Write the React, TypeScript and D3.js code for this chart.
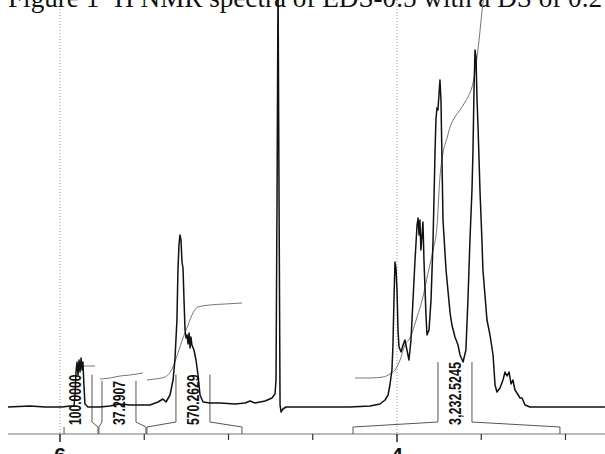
import React, { useEffect, useRef } from 'react'
import * as d3 from 'd3'

const W = 605
const H = 454

const title = 'Figure 1 ¹H NMR spectra of EDS-0.5 with a DS of 0.2'

// [chemical shift (ppm), intensity (a.u.)]
const spectrum: [number, number][] = [
  [6.309, 0], [6.178, 1], [6.089, 0], [6.012, 0], [5.988, 0], [5.941, 1], [5.917, 1],
  [5.911, 12], [5.905, 35], [5.899, 45], [5.893, 32], [5.887, 47], [5.881, 35], [5.875, 49],
  [5.869, 37], [5.864, 45], [5.858, 22], [5.852, 3], [5.834, 0], [5.822, 0], [5.763, 0],
  [5.703, 1], [5.644, 3], [5.585, 2], [5.525, 2], [5.466, 2], [5.418, 5], [5.389, 8],
  [5.371, 5], [5.347, 12], [5.329, 27], [5.318, 47], [5.306, 87], [5.300, 137], [5.294, 162],
  [5.288, 172], [5.282, 167], [5.276, 145], [5.270, 139], [5.264, 107], [5.258, 77],
  [5.252, 69], [5.246, 72], [5.240, 63], [5.234, 74], [5.228, 59], [5.223, 70], [5.217, 62],
  [5.205, 57], [5.193, 47], [5.181, 32], [5.169, 12], [5.151, 5], [5.110, 4], [5.050, 4],
  [4.961, 3], [4.902, 4], [4.872, 6], [4.843, 4], [4.783, 6], [4.742, 9], [4.724, 13],
  [4.718, 27], [4.712, 207], [4.706, 427], [4.700, 207], [4.694, 2], [4.688, -5], [4.677, -2],
  [4.659, 0], [4.605, 0], [4.516, 0], [4.398, 0], [4.279, 0], [4.160, 1], [4.101, 3],
  [4.071, 7], [4.053, 12], [4.042, 22], [4.030, 37], [4.024, 62], [4.018, 107], [4.012, 145],
  [4.006, 139], [4.000, 117], [3.994, 77], [3.988, 60], [3.976, 55], [3.964, 62], [3.953, 67],
  [3.941, 57], [3.929, 47], [3.917, 67], [3.905, 107], [3.893, 147], [3.881, 182], [3.875, 189],
  [3.869, 172], [3.864, 187], [3.858, 157], [3.846, 185], [3.840, 147], [3.828, 92], [3.822, 72],
  [3.810, 77], [3.798, 107], [3.786, 167], [3.774, 257], [3.769, 287], [3.763, 299], [3.757, 297],
  [3.751, 312], [3.745, 327], [3.739, 307], [3.733, 247], [3.727, 187], [3.709, 137], [3.685, 94],
  [3.674, 82], [3.656, 70], [3.638, 62], [3.626, 52], [3.608, 45], [3.591, 57], [3.579, 107],
  [3.567, 167], [3.555, 217], [3.549, 257], [3.543, 317], [3.537, 357], [3.531, 350], [3.525, 307],
  [3.519, 280], [3.513, 247], [3.507, 214], [3.496, 167], [3.490, 137], [3.478, 112], [3.466, 87],
  [3.448, 72], [3.430, 52], [3.418, 22], [3.407, 15], [3.389, 19], [3.371, 27], [3.359, 35],
  [3.347, 31], [3.335, 35], [3.323, 23], [3.312, 27], [3.300, 17], [3.288, 14], [3.270, 9],
  [3.258, 9], [3.240, 2], [3.211, 0], [3.033, 0], [2.766, 0]
]

// running integral traces, one per region
const integralCurves: [number, number][][] = [
  [[5.864, 41], [5.792, 41]],
  [[5.763, 28], [5.703, 29], [5.644, 31], [5.585, 32], [5.507, 34]],
  [[5.484, 27], [5.436, 28], [5.377, 30], [5.335, 38], [5.300, 54], [5.270, 69], [5.240, 82],
   [5.211, 94], [5.181, 100], [5.110, 102], [5.021, 103], [4.920, 104]],
  [[4.249, 29], [4.160, 29], [4.083, 30], [4.042, 33], [4.012, 37], [3.982, 47], [3.953, 62],
   [3.923, 69], [3.881, 90], [3.846, 110], [3.816, 134], [3.786, 157], [3.763, 180], [3.745, 230],
   [3.727, 254], [3.703, 269], [3.685, 280], [3.656, 290], [3.626, 297], [3.596, 305], [3.579, 310],
   [3.549, 324], [3.531, 342], [3.513, 367], [3.496, 395], [3.484, 412]]
]

const integralLabels = ['100.0000', '37.2907', '570.2629', '3,232.5245']
const integralFrom = [5.976, 5.769, 5.484, 4.261]
const integralTo = [5.774, 5.490, 4.920, 3.033]
const integralAt = [5.911, 5.650, 5.211, 3.656]
const integralLeftLine = [false, true, true, true]

const tickValues = [6, 5.5, 5, 4.5, 4, 3.5, 3]
const tickLabels: Record<number, string> = { 6: '6', 4: '4' }
const gridValues = [6, 4]

export default function App() {
  const svgRef = useRef<SVGSVGElement>(null)

  useEffect(() => {
    if (!svgRef.current) return
    const svg = d3.select(svgRef.current)
    svg.selectAll('*').remove()

    const x = d3.scaleLinear().domain([6, 4]).range([60, 397])
    const y = d3.scaleLinear().domain([0, 400]).range([407, 7])
    const axisY = 434

    svg.append('rect').attr('width', W).attr('height', H).attr('fill', 'white')

    // dotted guides at whole ppm
    gridValues.forEach(v => {
      svg.append('line')
        .attr('x1', x(v)).attr('x2', x(v))
        .attr('y1', 0).attr('y2', axisY)
        .attr('stroke', '#9a9a9a')
        .attr('stroke-width', 1)
        .attr('stroke-dasharray', '1,2')
    })

    // title, mostly cropped off the top
    svg.append('text')
      .attr('x', 8)
      .attr('y', 6.5)
      .attr('textLength', 594)
      .attr('lengthAdjust', 'spacingAndGlyphs')
      .attr('font-family', "'Liberation Serif', 'Times New Roman', serif")
      .attr('font-size', 27)
      .attr('fill', '#111')
      .text(title)

    // axis
    svg.append('line')
      .attr('x1', 8).attr('x2', W)
      .attr('y1', axisY).attr('y2', axisY)
      .attr('stroke', '#777')
      .attr('stroke-width', 1.2)

    tickValues.forEach(v => {
      const major = tickLabels[v] !== undefined
      svg.append('line')
        .attr('x1', x(v)).attr('x2', x(v))
        .attr('y1', axisY).attr('y2', axisY + (major ? 8 : 6))
        .attr('stroke', '#333')
        .attr('stroke-width', major ? 1.6 : 1.2)
      if (major) {
        svg.append('text')
          .attr('x', x(v))
          .attr('y', 462)
          .attr('text-anchor', 'middle')
          .attr('font-family', "'Liberation Sans', Arial, sans-serif")
          .attr('font-weight', 'bold')
          .attr('font-size', 21)
          .attr('fill', '#111')
          .text(tickLabels[v])
      }
    })

    // integral brackets and labels
    integralLabels.forEach((lab, i) => {
      const a = x(integralFrom[i])
      const b = x(integralTo[i])
      const c = x(integralAt[i])
      const l1 = c - 17
      const l2 = c + 17
      const len = lab.length * 6.3
      const top = 425 - len
      const p = d3.path()
      p.moveTo(a, axisY)
      p.lineTo(a, 427)
      if (integralLeftLine[i]) {
        p.lineTo(l1, 422)
        p.lineTo(l1, top)
      }
      p.moveTo(b, axisY)
      p.lineTo(b, 427)
      p.lineTo(l2, 422)
      p.lineTo(l2, top)
      svg.append('path')
        .attr('d', p.toString())
        .attr('fill', 'none')
        .attr('stroke', '#555')
        .attr('stroke-width', 1)

      svg.append('text')
        .attr('transform', `translate(${c},425) rotate(-90)`)
        .attr('y', 6.2)
        .attr('textLength', len)
        .attr('lengthAdjust', 'spacingAndGlyphs')
        .attr('font-family', "'Liberation Sans', Arial, sans-serif")
        .attr('font-weight', 'bold')
        .attr('font-size', 17)
        .attr('fill', '#111')
        .text(lab)
    })

    const line = d3.line<[number, number]>()
      .x(d => x(d[0]))
      .y(d => y(d[1]))

    // integral traces
    integralCurves.forEach(curve => {
      svg.append('path')
        .attr('d', line.curve(d3.curveMonotoneX)(curve) || '')
        .attr('fill', 'none')
        .attr('stroke', '#777')
        .attr('stroke-width', 1)
    })

    // spectrum
    svg.append('path')
      .attr('d', line.curve(d3.curveLinear)(spectrum) || '')
      .attr('fill', 'none')
      .attr('stroke', '#111')
      .attr('stroke-width', 1.5)
      .attr('stroke-linejoin', 'round')
  }, [])

  return (
    <svg
      ref={svgRef}
      width={W}
      height={H}
      style={{ position: 'absolute', left: 0, top: 0 }}
    />
  )
}
